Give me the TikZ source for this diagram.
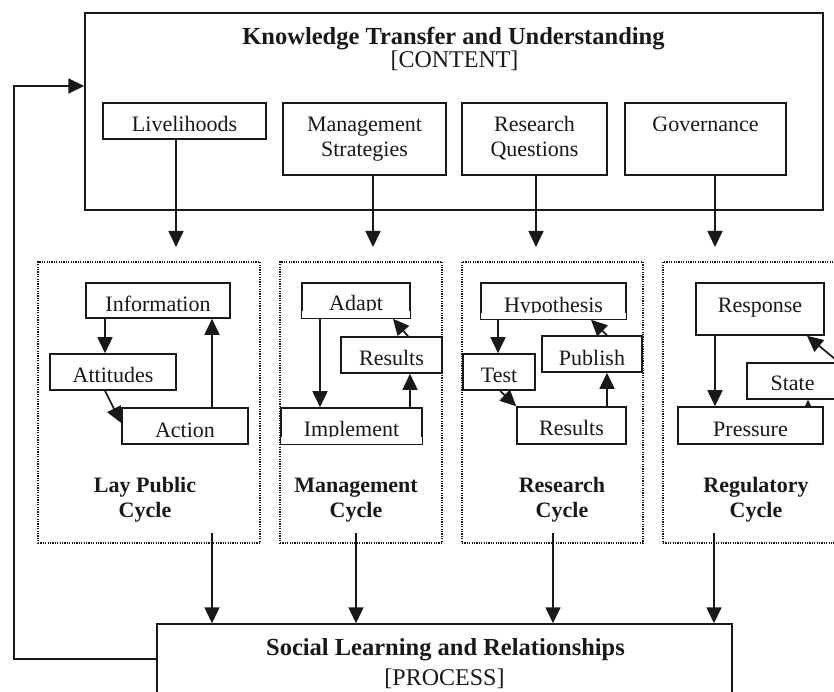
\documentclass[tikz,border=0pt]{standalone}
\usepackage{fontspec}
\setmainfont{Liberation Serif}
\usetikzlibrary{arrows.meta,calc}
\definecolor{ink}{gray}{0.1}

\tikzset{
  bigbox/.style={draw=ink, line width=1.5pt, inner sep=0pt},
  itembox/.style={draw=ink, line width=1.6pt, fill=white, inner sep=0pt, text=ink,
    font=\fontsize{22}{25}\selectfont},
  cyclebox/.style={draw=ink, line width=1.2pt, dash pattern=on 1.2pt off 1.2pt, inner sep=0pt},
  cyclename/.style={inner sep=0pt, text=ink, font=\fontsize{22}{25}\selectfont\bfseries, anchor=base},
  heading/.style={inner sep=0pt, text=ink, font=\fontsize{24.5}{29}\selectfont\bfseries, anchor=base},
  subheading/.style={inner sep=0pt, text=ink, font=\fontsize{24}{29}\selectfont, anchor=base},
  link/.style={draw=ink, line width=1.7pt, -{Triangle[length=16pt,width=15pt]}},
  mask/.style={fill=white},
}
\newcommand{\twolines}[2]{\begin{tabular}[t]{@{}c@{}}#1\\#2\end{tabular}}

\begin{document}
\begin{tikzpicture}[x=1pt,y=-1pt]
\useasboundingbox (0,0) rectangle (834,692);
\clip (0,0) rectangle (834,692);

% ---------- content frame ----------
\node[bigbox, minimum width=738pt, minimum height=197pt] (content) at (454,111.5) {};
\node[heading] (contenttitle) at (453.5,45) {Knowledge Transfer and Understanding};
\node[subheading] (contenttag) at (454.5,68) {[CONTENT]};

\node[itembox, minimum width=163pt, text height=29pt, text depth=7pt] (liv) at (184.5,121) {Livelihoods};
\node[itembox, minimum width=163pt, text height=29pt, text depth=43pt] (ms) at (364.5,139) {\twolines{Management}{Strategies}};
\node[itembox, minimum width=145pt, text height=29pt, text depth=43pt] (rq) at (534.5,139) {\twolines{Research}{Questions}};
\node[itembox, minimum width=161pt, text height=29pt, text depth=43pt] (gov) at (705.5,139) {Governance};

% ---------- process frame ----------
\node[bigbox, minimum width=575pt, minimum height=70pt] (process) at (444.5,659) {};
\node[heading] (processtitle) at (445.5,655) {Social Learning and Relationships};
\node[subheading] (processtag) at (444.5,685) {[PROCESS]};

% ---------- cycle frames ----------
\node[cyclebox, minimum width=222pt, minimum height=281pt] (lay) at (149,402.5) {};
\node[cyclebox, minimum width=162pt, minimum height=281pt] (mgmt) at (361,402.5) {};
\node[cyclebox, minimum width=181pt, minimum height=281pt] (res) at (552.5,402.5) {};
\node[cyclebox, minimum width=217pt, minimum height=281pt] (reg) at (771.5,402.5) {};

\node[cyclename] (laylbl) at (145,492) {\twolines{Lay Public}{Cycle}};
\node[cyclename] (mgmtlbl) at (356,492) {\twolines{Management}{Cycle}};
\node[cyclename] (reslbl) at (562,492) {\twolines{Research}{Cycle}};
\node[cyclename] (reglbl) at (756,492) {\twolines{Regulatory}{Cycle}};

% ---------- lay public cycle ----------
\node[itembox, minimum width=144pt, text height=28pt, text depth=7pt] (info) at (158,300.5) {Information};
\node[itembox, minimum width=126pt, text height=28pt, text depth=8pt] (att) at (113,372) {Attitudes};
\node[itembox, minimum width=126pt, text height=29pt, text depth=7pt] (act) at (185,426) {Action};

% ---------- management cycle ----------
\node[itembox, minimum width=108pt, text height=27pt, text depth=8pt] (adapt) at (356,300.5) {Adapt};
\node[itembox, minimum width=101pt, text height=28pt, text depth=8pt] (mres) at (391.5,355) {Results};
\node[itembox, minimum width=141pt, text height=28pt, text depth=8pt] (impl) at (351.5,426) {Implement\hspace{14pt}};

% ---------- research cycle ----------
\node[itembox, minimum width=145pt, text height=29pt, text depth=7pt] (hyp) at (553.5,301) {Hypothesis\hspace{14pt}};
\node[itembox, minimum width=100pt, text height=29pt, text depth=7pt] (pub) at (592,354) {Publish};
\node[itembox, minimum width=72pt, text height=28pt, text depth=8pt] (test) at (499,372) {Test};
\node[itembox, minimum width=109pt, text height=28pt, text depth=9pt] (rres) at (571.5,425.5) {Results\hspace{8pt}};

% ---------- regulatory cycle ----------
\node[itembox, minimum width=128pt, text height=29pt, text depth=23pt] (resp) at (760,309) {Response};
\node[itembox, minimum width=91pt, text height=27pt, text depth=9pt] (state) at (792.5,381) {State};
\node[itembox, minimum width=145pt, text height=29pt, text depth=8pt] (press) at (750.5,425.5) {Pressure};

% descenders hidden below the baseline in the tight boxes
\foreach \b in {adapt,impl,hyp}
  \fill[mask] ($(\b.base west)+(1pt,-0.6pt)$) rectangle ($(\b.south east)+(-1pt,0.9pt)$);

% ---------- content to cycles ----------
\coordinate (t1) at (176,247);
\coordinate (t2) at (373,247);
\coordinate (t3) at (536,247);
\coordinate (t4) at (715,247);
\draw[link] (liv.south -| t1) -- (t1);
\draw[link] (ms.south -| t2) -- (t2);
\draw[link] (rq.south -| t3) -- (t3);
\draw[link] (gov.south -| t4) -- (t4);

% ---------- cycles to process ----------
\coordinate (s1) at (212,533);
\coordinate (s2) at (356,533);
\coordinate (s3) at (553,533);
\coordinate (s4) at (714,533);
\foreach \s in {s1,s2,s3,s4}
  \draw[link] (\s) -- (\s |- process.north);

% ---------- feedback loop ----------
\coordinate (loop) at (14,86);
\draw[link] (process.west) -| (loop) -- (loop -| content.west);

% ---------- lay public cycle links ----------
\coordinate (lx1) at (105,0);
\coordinate (lx2) at (212,0);
\draw[link] (info.south -| lx1) -- (att.north -| lx1);
\draw[link] (att.south -| lx1) -- ($(act.west)+(0,-3)$);
\draw[link] (act.north -| lx2) -- (info.south -| lx2);

% ---------- management cycle links ----------
\coordinate (mx1) at (320,0);
\coordinate (mx2) at (410,0);
\coordinate (mx3) at (408,0);
\coordinate (mx4) at (393,0);
\draw[link] (adapt.south -| mx1) -- (impl.north -| mx1);
\draw[link] (impl.north -| mx2) -- (mres.south -| mx2);
\draw[link] (mres.north -| mx3) -- (adapt.south -| mx4);

% ---------- research cycle links ----------
\coordinate (rx1) at (498,0);
\coordinate (rx2) at (500,0);
\coordinate (rx3) at (607,0);
\coordinate (rx4) at (591,0);
\draw[link] (hyp.south -| rx1) -- (test.north -| rx1);
\draw[link] (test.south -| rx2) -- (rres.north west);
\draw[link] (rres.north -| rx3) -- (pub.south -| rx3);
\draw[link] (pub.north -| rx3) -- (hyp.south -| rx4);

% ---------- regulatory cycle links ----------
\coordinate (gx1) at (715,0);
\coordinate (gx2) at (808,0);
\coordinate (gx3) at (807,0);
\draw[link] (resp.south -| gx1) -- (press.north -| gx1);
\draw[link] (state.north east) -- (resp.south -| gx3);
\begin{scope}
  \clip (state.south west) rectangle (press.north east);
  \draw[link] (press.north -| gx2) -- (state.south -| gx2);
\end{scope}
\end{tikzpicture}
\end{document}
